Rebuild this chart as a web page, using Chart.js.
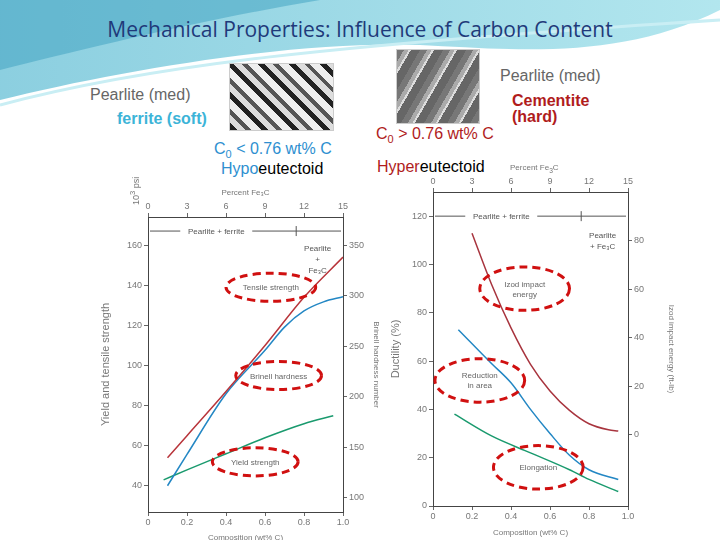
<!DOCTYPE html>
<html>
<head>
<meta charset="utf-8">
<script src="https://cdn.jsdelivr.net/npm/chart.js@4"></script>
<style>
  body { margin: 0; width: 720px; height: 540px; position: relative; overflow: hidden; background: #fff; font-family: "Liberation Sans", Arial, sans-serif; }
  .t { position: absolute; white-space: nowrap; }
  .box { position: absolute; border: 1px solid #ccc; }
  canvas { position: absolute; }
</style>
</head>
<body>
<svg width="720" height="110" style="position:absolute;left:0;top:0">
  <defs>
    <linearGradient id="g" x1="0" x2="1" y1="0" y2="0">
      <stop offset="0" stop-color="#6fc3d8"/>
      <stop offset="1" stop-color="#9fe0ea"/>
    </linearGradient>
  </defs>
  <path d="M0,0 H720 V10 C620,60 520,50 420,45 C300,40 120,70 0,100 Z" fill="url(#g)" opacity="0.8"/>
  <path d="M0,0 H320 C200,20 80,50 0,70 Z" fill="#3b9fc0" opacity="0.5"/>
  <path d="M0,105 C150,65 330,45 720,20" stroke="#c9eef4" stroke-width="3" fill="none"/>
</svg>
<div class="t" style="left:0;width:720px;text-align:center;top:15px;font-size:21px;color:#1f3a7a;font-family:'Open Sans',sans-serif">Mechanical Properties: Influence of Carbon Content</div>
<div class="t" style="left:90px;top:86px;font-size:16px;color:#666">Pearlite (med)</div>
<div class="t" style="left:117px;top:110px;font-size:16px;color:#3cb4d8;font-weight:bold">ferrite (soft)</div>
<div class="box" style="left:229px;top:63px;width:103px;height:66px;background:repeating-linear-gradient(45deg,#222 0 5px,#ddd 5px 11px,#555 11px 15px,#eee 15px 22px)"></div>
<div class="box" style="left:396px;top:49px;width:82px;height:73px;background:repeating-linear-gradient(120deg,#777 0 6px,#aaa 6px 10px,#ddd 10px 12px,#666 12px 20px)"></div>
<div class="t" style="left:214px;top:140px;font-size:16px;color:#2e8fd0">C<sub style="font-size:11px">0</sub> &lt; 0.76 wt% C</div>
<div class="t" style="left:221px;top:160px;font-size:16px;color:#000"><span style="color:#2e8fd0">Hypo</span>eutectoid</div>
<div class="t" style="left:500px;top:67px;font-size:16px;color:#666">Pearlite (med)</div>
<div class="t" style="left:512px;top:93px;font-size:16px;color:#b01c1c;font-weight:bold;line-height:16px">Cementite<br>(hard)</div>
<div class="t" style="left:376px;top:125px;font-size:16px;color:#b01c1c">C<sub style="font-size:11px">0</sub> &gt; 0.76 wt% C</div>
<div class="t" style="left:377px;top:158px;font-size:16px;color:#000"><span style="color:#b01c1c">Hyper</span>eutectoid</div>
<canvas id="chart1" style="left:95px;top:187px"></canvas>
<canvas id="chart2" style="left:385px;top:170px"></canvas>
<script>
const carbonA = [0.1, 0.2, 0.4, 0.6, 0.8, 1.0];
const tensile = [54, 65, 87, 110, 134, 154];
const carbonB = [0.1, 0.2, 0.4, 0.6, 0.7, 0.8, 0.9, 1.0];
const brinell = [112, 143, 203, 246, 269, 285, 294, 299];
const carbonY = [0.08, 0.2, 0.4, 0.6, 0.8, 0.95];
const yieldStr = [43, 48, 56, 64, 71, 75];

const carbonI = [0.2, 0.3, 0.4, 0.5, 0.6, 0.7, 0.8, 0.9, 0.95];
const izod = [83, 62, 44, 29, 18, 10, 4.5, 2, 1.5];
const carbonR = [0.13, 0.3, 0.4, 0.5, 0.6, 0.7, 0.8, 0.95];
const reduction = [73, 59, 51, 40, 30, 21, 15, 11];
const carbonE = [0.11, 0.3, 0.5, 0.7, 0.8, 0.95];
const elongation = [38, 29, 22, 15, 11, 6];

const ticksPsi = [40, 60, 80, 100, 120, 140, 160];
const ticksBhn = [100, 150, 200, 250, 300, 350];
const ticksDuct = [0, 20, 40, 60, 80, 100, 120];
const ticksIzod = [0, 20, 40, 60, 80];
const ticksFe3C = [0, 3, 6, 9, 12, 15];

// ellipse labels: [x, y(left axis), rx, ry, text]
const notesA = [[0.63, 139, 0.23, 7, 'Tensile strength'], [0.67, 95, 0.22, 7, 'Brinell hardness'], [0.55, 52, 0.22, 7, 'Yield strength']];
const notesB = [[0.47, 90, 0.23, 9, 'Izod impact\nenergy'], [0.24, 52, 0.23, 9, 'Reduction\nin area'], [0.54, 16, 0.23, 9, 'Elongation']];

const pts = (xs, ys) => xs.map((x, i) => ({x: x, y: ys[i]}));
const grey = '#777';
const tickFont = {size: 9, family: 'Liberation Sans'};
const axisGrid = {drawOnChartArea: false, tickLength: 4, color: '#666'};

function fixed(size) { return s => { if (s.isHorizontal()) s.height = size; else s.width = size; }; }
function setTicks(list) { return s => { s.ticks = list.map(v => ({value: v})); }; }

const decor = {
  id: 'decor',
  afterDatasetsDraw(chart, args, o) {
    const c = chart.ctx, x = chart.scales.x, y = chart.scales.y, a = chart.chartArea;
    c.save();
    c.strokeStyle = '#555'; c.lineWidth = 1;
    const ay = y.getPixelForValue(o.arrowY);
    c.beginPath(); c.moveTo(a.left + 2, ay); c.lineTo(a.right - 2, ay);
    const xm = x.getPixelForValue(0.76);
    c.moveTo(xm, ay - 5); c.lineTo(xm, ay + 5);
    c.stroke();
    c.font = '8px Liberation Sans'; c.textAlign = 'center';
    const lx = x.getPixelForValue(0.35);
    c.fillStyle = '#fff'; c.fillRect(lx - 36, ay - 5, 72, 10);
    c.fillStyle = '#555'; c.fillText('Pearlite + ferrite', lx, ay + 3);
    o.pf.forEach((s, i) => c.fillText(s, x.getPixelForValue(0.87), y.getPixelForValue(o.pfY) + i * 11));
    c.strokeStyle = '#d01010'; c.lineWidth = 3; c.setLineDash([8, 5]);
    o.notes.forEach(n => {
      const cx = x.getPixelForValue(n[0]), cy = y.getPixelForValue(n[1]);
      const rx = Math.abs(x.getPixelForValue(n[0] + n[2]) - cx), ry = Math.abs(y.getPixelForValue(n[1] + n[3]) - cy);
      c.beginPath(); c.ellipse(cx, cy, rx, ry, 0, 0, 2 * Math.PI); c.stroke();
      c.fillStyle = '#666'; c.font = '8px Liberation Sans';
      const lines = n[4].split('\n');
      lines.forEach((s, i) => c.fillText(s, cx, cy + 3 + (i - (lines.length - 1) / 2) * 10));
    });
    c.restore();
  }
};

function makeChart(id, w, h, sets, yl, yr, ylTicks, yrTicks, sizes, titles, extra) {
  const cv = document.getElementById(id);
  cv.width = w; cv.height = h;
  cv.style.width = w + 'px'; cv.style.height = h + 'px';
  return new Chart(cv, {
    type: 'line',
    data: {datasets: sets},
    plugins: [decor],
    options: {
      responsive: false, animation: false, devicePixelRatio: 1,
      layout: {padding: 0},
      plugins: {legend: {display: false}, tooltip: {enabled: false}, decor: extra},
      elements: {point: {radius: 0}, line: {borderWidth: 1.5, cubicInterpolationMode: 'monotone'}},
      scales: {
        x: {type: 'linear', position: 'bottom', min: 0, max: 1.0, afterFit: fixed(sizes[3]),
            ticks: {stepSize: 0.2, padding: 1, color: grey, font: tickFont, callback: v => v === 1 ? '1.0' : v === 0 ? '0' : v.toFixed(1)},
            grid: axisGrid, border: {color: '#444'},
            title: {display: true, text: 'Composition (wt% C)', color: grey, font: {size: 8}, padding: 0}},
        x2: {type: 'linear', position: 'top', min: 0, max: 15, afterFit: fixed(sizes[2]), afterBuildTicks: setTicks(ticksFe3C),
             ticks: {color: grey, font: tickFont, padding: 1}, grid: axisGrid, border: {color: '#444'},
             title: {display: titles[2] !== '', text: titles[2], color: grey, font: {size: 8}, padding: 1}},
        y: {min: yl[0], max: yl[1], afterFit: fixed(sizes[0]), afterBuildTicks: setTicks(ylTicks),
            ticks: {color: grey, font: tickFont, padding: 2}, grid: axisGrid, border: {color: '#444'},
            title: {display: true, text: titles[0], color: grey, font: {size: 11}}},
        y2: {position: 'right', min: yr[0], max: yr[1], afterFit: fixed(sizes[1]), afterBuildTicks: setTicks(yrTicks),
             ticks: {color: grey, font: tickFont, padding: 2}, grid: axisGrid, border: {color: '#444'},
             title: {display: true, text: titles[1], color: grey, font: {size: 8}}}
      }
    }
  });
}

makeChart('chart1', 290, 356, [
  {data: pts(carbonA, tensile), borderColor: '#b8343a', yAxisID: 'y'},
  {data: pts(carbonB, brinell), borderColor: '#2387c4', yAxisID: 'y2'},
  {data: pts(carbonY, yieldStr), borderColor: '#1a9a6e', yAxisID: 'y'}
], [27, 174], [86, 378], ticksPsi, ticksBhn, [53, 42, 30, 31],
  ['Yield and tensile strength', 'Brinell hardness number', 'Percent Fe\u2083C'],
  {arrowY: 167, notes: notesA, pf: ['Pearlite', '+', 'Fe\u2083C'], pfY: 157});

makeChart('chart2', 295, 368, [
  {data: pts(carbonI, izod), borderColor: '#a8343e', yAxisID: 'y2'},
  {data: pts(carbonR, reduction), borderColor: '#2387c4', yAxisID: 'y'},
  {data: pts(carbonE, elongation), borderColor: '#1a9a6e', yAxisID: 'y'}
], [0, 130], [-29.4, 100], ticksDuct, ticksIzod, [48, 52, 22, 32],
  ['Ductility (%)', 'Izod impact energy (ft-lb)', ''],
  {arrowY: 120, notes: notesB, pf: ['Pearlite', '+ Fe\u2083C'], pfY: 111});
</script>
<div class="t" style="left:128px;font-size:9px;color:#777;transform:rotate(-90deg);transform-origin:left top;top:205px">10<sup>3</sup> psi</div>
<div class="t" style="left:510px;top:163px;font-size:8px;color:#777">Percent Fe<sub>3</sub>C</div>
</body>
</html>
